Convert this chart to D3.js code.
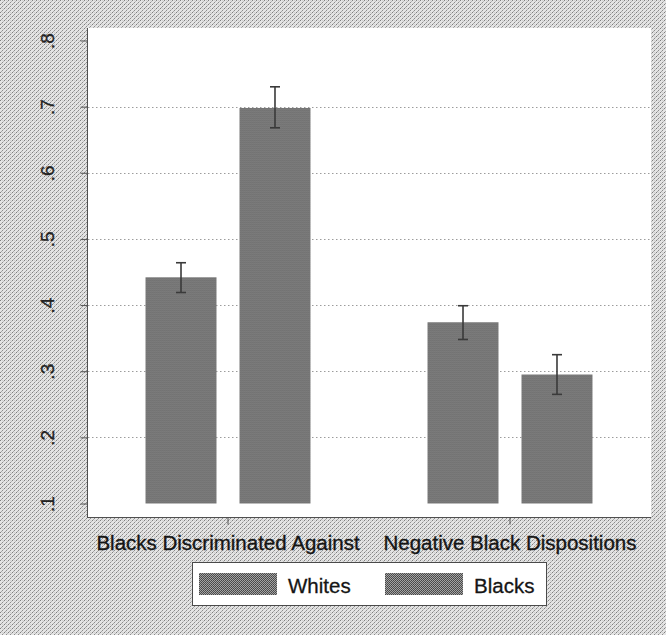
<!DOCTYPE html>
<html>
<head>
<meta charset="utf-8">
<script src="https://cdn.jsdelivr.net/npm/d3@7"></script>
<style>
  html, body { margin: 0; padding: 0; background: #fff; }
  svg { display: block; }
  text { font-family: "Liberation Sans", Arial, sans-serif; }
</style>
</head>
<body>
<svg id="chart" width="666" height="635"></svg>
<script>
// Group categories and series
const categories = ["Blacks Discriminated Against", "Negative Black Dispositions"];
const seriesNames = ["Whites", "Blacks"];

// Mean values per category
const whitesMean = [0.442, 0.374];
const blacksMean = [0.698, 0.295];

// Confidence interval bounds per category
const whitesLow  = [0.419, 0.348];
const whitesHigh = [0.464, 0.399];
const blacksLow  = [0.668, 0.265];
const blacksHigh = [0.730, 0.325];

// Y axis ticks
const yTicks = [0.1, 0.2, 0.3, 0.4, 0.5, 0.6, 0.7, 0.8];
const gridTicks = [0.2, 0.3, 0.4, 0.5, 0.6, 0.7];
const baseValue = 0.1;

const rows = categories.map((c, i) => ({
  category: c,
  values: [
    { series: "Whites", mean: whitesMean[i], lo: whitesLow[i], hi: whitesHigh[i] },
    { series: "Blacks", mean: blacksMean[i], lo: blacksLow[i], hi: blacksHigh[i] }
  ]
}));

const W = 666, H = 635;
const plot = { left: 87, right: 651, top: 28, bottom: 517 };

const svg = d3.select("#chart");
const defs = svg.append("defs");

// Halftone-like background texture
const bg = defs.append("pattern").attr("id", "bgTex")
  .attr("width", 4).attr("height", 4).attr("patternUnits", "userSpaceOnUse");
bg.append("rect").attr("width", 4).attr("height", 4).attr("fill", "#e4e4e4");
[[0, 0, "#7f7f7f"], [2, 2, "#8c8c8c"], [1, 3, "#a8a8a8"], [3, 1, "#b8b8b8"], [2, 0, "#cfcfcf"]].forEach(([x, y, c]) =>
  bg.append("rect").attr("x", x).attr("y", y).attr("width", 1).attr("height", 1).attr("fill", c));

// Dithered bar fill
const barTex = defs.append("pattern").attr("id", "barTex")
  .attr("width", 2).attr("height", 2).attr("patternUnits", "userSpaceOnUse");
barTex.append("rect").attr("width", 2).attr("height", 2).attr("fill", "#a3a3a3");
barTex.append("rect").attr("x", 0).attr("y", 0).attr("width", 1).attr("height", 1).attr("fill", "#464646");
barTex.append("rect").attr("x", 1).attr("y", 1).attr("width", 1).attr("height", 1).attr("fill", "#505050");

svg.append("rect").attr("width", W).attr("height", H).attr("fill", "url(#bgTex)");

// Plot region
svg.append("rect")
  .attr("x", plot.left).attr("y", plot.top)
  .attr("width", plot.right - plot.left).attr("height", plot.bottom - plot.top)
  .attr("fill", "#ffffff");

// Scales
const y = d3.scaleLinear().domain([0.1, 0.8]).range([503.5, 40.5]);
const x0 = d3.scaleBand().domain(categories)
  .range([plot.left, plot.right]).paddingInner(0.415).paddingOuter(0.2075);
const x1 = d3.scaleBand().domain(seriesNames)
  .range([0, x0.bandwidth()]).paddingInner(0.2447);

// Gridlines
svg.append("g").selectAll("line").data(gridTicks).join("line")
  .attr("x1", plot.left + 1).attr("x2", plot.right)
  .attr("y1", d => Math.round(y(d)) + 0.5).attr("y2", d => Math.round(y(d)) + 0.5)
  .attr("stroke", "#9c9c9c").attr("stroke-width", 1)
  .attr("stroke-dasharray", "1.5,2.5");

// Bars
const groups = svg.append("g").selectAll("g").data(rows).join("g")
  .attr("transform", d => `translate(${x0(d.category)},0)`);

groups.selectAll("rect").data(d => d.values).join("rect")
  .attr("x", d => x1(d.series))
  .attr("width", x1.bandwidth())
  .attr("y", d => y(d.mean))
  .attr("height", d => y(baseValue) - y(d.mean))
  .attr("fill", "url(#barTex)");

// Error bars
const capHalf = 5;
const eb = groups.selectAll("g.err").data(d => d.values).join("g").attr("class", "err")
  .attr("stroke", "#3a3a3a").attr("stroke-width", 1.6);
eb.append("line")
  .attr("x1", d => x1(d.series) + x1.bandwidth() / 2)
  .attr("x2", d => x1(d.series) + x1.bandwidth() / 2)
  .attr("y1", d => y(d.hi)).attr("y2", d => y(d.lo));
eb.append("line")
  .attr("x1", d => x1(d.series) + x1.bandwidth() / 2 - capHalf)
  .attr("x2", d => x1(d.series) + x1.bandwidth() / 2 + capHalf)
  .attr("y1", d => y(d.hi)).attr("y2", d => y(d.hi));
eb.append("line")
  .attr("x1", d => x1(d.series) + x1.bandwidth() / 2 - capHalf)
  .attr("x2", d => x1(d.series) + x1.bandwidth() / 2 + capHalf)
  .attr("y1", d => y(d.lo)).attr("y2", d => y(d.lo));

// Y axis
const yAxis = d3.axisLeft(y).tickValues(yTicks).tickSize(7)
  .tickFormat(v => v.toFixed(1).replace(/^0/, ""));
const gy = svg.append("g").attr("transform", `translate(${plot.left + 0.5},0)`).call(yAxis);
gy.select(".domain").attr("d", `M0,${plot.top}V${plot.bottom}`).attr("stroke", "#505050");
gy.selectAll(".tick line").attr("stroke", "#505050");
gy.selectAll(".tick text")
  .attr("x", null).attr("dy", null)
  .attr("transform", "translate(-34,0) rotate(-90)")
  .attr("text-anchor", "middle")
  .attr("font-size", 19)
  .attr("fill", "#222")
  .attr("stroke", "#222").attr("stroke-width", 0.3);

// X axis
const xAxis = d3.axisBottom(x0).tickSize(7).tickFormat("");
const gx = svg.append("g").attr("transform", `translate(0,${plot.bottom + 0.5})`).call(xAxis);
gx.select(".domain").attr("d", `M${plot.left},0H${plot.right}`).attr("stroke", "#505050");
gx.selectAll(".tick line").attr("stroke", "#505050");

// Category labels
svg.append("g").selectAll("text").data(categories).join("text")
  .attr("x", d => x0(d) + x0.bandwidth() / 2)
  .attr("y", 550)
  .attr("text-anchor", "middle")
  .attr("font-size", 20.5)
  .attr("fill", "#151515")
  .attr("stroke", "#151515").attr("stroke-width", 0.35)
  .text(d => d);

// Legend
const legend = svg.append("g");
legend.append("rect")
  .attr("x", 192.5).attr("y", 562.5).attr("width", 354).attr("height", 43)
  .attr("fill", "#ffffff").attr("stroke", "#4a4a4a").attr("stroke-width", 1);
const legendX = [199, 385];
const li = legend.selectAll("g").data(seriesNames).join("g")
  .attr("transform", (d, i) => `translate(${legendX[i]},0)`);
li.append("rect").attr("x", 0).attr("y", 573).attr("width", 78).attr("height", 22)
  .attr("fill", "url(#barTex)");
li.append("text").attr("x", 89).attr("y", 593)
  .attr("font-size", 20.5).attr("fill", "#151515")
  .attr("stroke", "#151515").attr("stroke-width", 0.3)
  .text(d => d);
</script>
</body>
</html>
